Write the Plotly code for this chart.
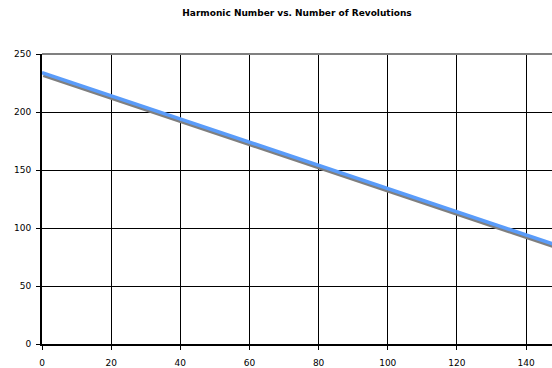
import plotly.graph_objects as go

# Harmonic number reached at each revolution count
harmonic = [
    234, 233, 232, 231, 230, 229, 228, 227, 226, 225,
    224, 223, 222, 221, 220, 219, 218, 217, 216, 215,
    214, 213, 212, 211, 210, 209, 208, 207, 206, 205,
    204, 203, 202, 201, 200, 199, 198, 197, 196, 195,
    194, 193, 192, 191, 190, 189, 188, 187, 186, 185,
    184, 183, 182, 181, 180, 179, 178, 177, 176, 175,
    174, 173, 172, 171, 170, 169, 168, 167, 166, 165,
    164, 163, 162, 161, 160, 159, 158, 157, 156, 155,
    154, 153, 152, 151, 150, 149, 148, 147, 146, 145,
    144, 143, 142, 141, 140, 139, 138, 137, 136, 135,
    134, 133, 132, 131, 130, 129, 128, 127, 126, 125,
    124, 123, 122, 121, 120, 119, 118, 117, 116, 115,
    114, 113, 112, 111, 110, 109, 108, 107, 106, 105,
    104, 103, 102, 101, 100, 99, 98, 97, 96, 95,
    94, 93, 92, 91, 90, 89, 88, 87, 86,
]
revolutions = list(range(len(harmonic)))

x_ticks = [0, 20, 40, 60, 80, 100, 120, 140]
y_ticks = [0, 50, 100, 150, 200, 250]

FONT = "DejaVu Sans"

fig = go.Figure()

# drop shadow under the series line
fig.add_trace(go.Scatter(
    x=[r + 0.4 for r in revolutions],
    y=[h - 2.4 for h in harmonic],
    mode="lines",
    line=dict(color="#7f7f7f", width=3.5),
    hoverinfo="skip",
    showlegend=False,
))
fig.add_trace(go.Scatter(
    x=revolutions,
    y=harmonic,
    mode="lines",
    line=dict(color="#5a9cfa", width=3.5),
    showlegend=False,
))

fig.update_layout(
    width=552,
    height=368,
    margin=dict(l=42, r=0, t=54, b=22),
    paper_bgcolor="white",
    plot_bgcolor="white",
    title=dict(
        text="<b>Harmonic Number vs. Number of Revolutions</b>",
        x=0.5,
        xref="paper",
        y=1 - 13 / 368,
        yanchor="middle",
        font=dict(family=FONT, size=9, color="#000000"),
    ),
    xaxis=dict(
        range=[0, 147.5],
        tickvals=x_ticks,
        ticks="outside",
        ticklen=4,
        tickwidth=1,
        tickcolor="black",
        ticklabelstandoff=5,
        showline=True,
        linecolor="black",
        linewidth=2,
        showgrid=True,
        gridcolor="black",
        gridwidth=1,
        zeroline=False,
        tickfont=dict(family=FONT, size=9, color="#000000"),
    ),
    yaxis=dict(
        range=[0, 250],
        tickvals=y_ticks,
        ticks="outside",
        ticklen=4,
        tickwidth=1,
        tickcolor="black",
        ticklabelstandoff=3,
        showline=True,
        linecolor="black",
        linewidth=2,
        showgrid=True,
        gridcolor="black",
        gridwidth=1,
        zeroline=False,
        tickfont=dict(family=FONT, size=9, color="#000000"),
    ),
    shapes=[
        dict(type="line", xref="paper", yref="paper",
             x0=0, x1=1, y0=1, y1=1,
             line=dict(color="#808080", width=2)),
    ],
)

fig.write_html("out.html")
